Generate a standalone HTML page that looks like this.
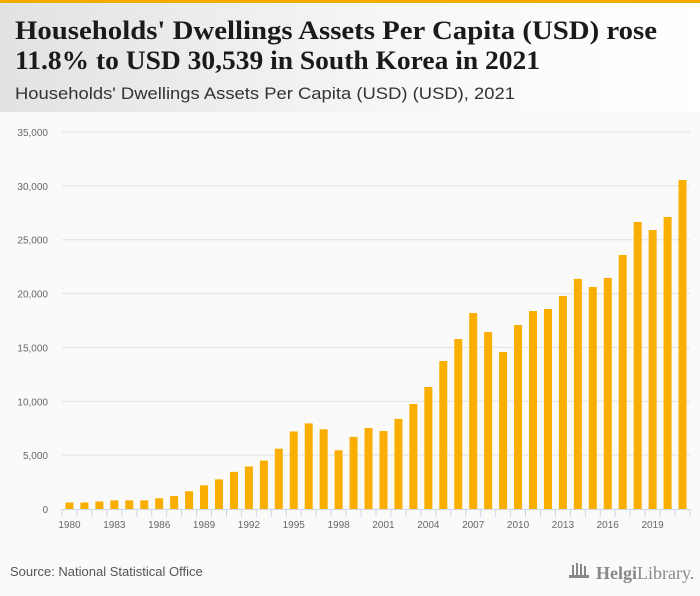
<!DOCTYPE html>
<html><head><meta charset="utf-8"><style>
body{margin:0;width:700px;height:596px;overflow:hidden;background:#fafafa;font-family:"Liberation Sans",sans-serif}
svg{display:block}
</style></head><body>
<svg id="chart" width="700" height="596" xmlns="http://www.w3.org/2000/svg">
<defs><linearGradient id="hg" x1="0" x2="1" y1="0" y2="0"><stop offset="0" stop-color="#e2e2e2"/><stop offset="0.6" stop-color="#f8f8f8"/><stop offset="1" stop-color="#ffffff"/></linearGradient></defs>
<rect x="0" y="0" width="700" height="596" fill="#fafafa"/>
<rect x="0" y="3" width="700" height="109" fill="url(#hg)"/>
<rect x="0" y="0" width="700" height="3" fill="#f5ac00"/>
<text x="15" y="39" font-family="Liberation Serif, serif" font-weight="bold" font-size="26" fill="#1a1a1a" textLength="642" lengthAdjust="spacingAndGlyphs">Households' Dwellings Assets Per Capita (USD) rose</text>
<text x="15" y="69" font-family="Liberation Serif, serif" font-weight="bold" font-size="26" fill="#1a1a1a" textLength="525" lengthAdjust="spacingAndGlyphs">11.8% to USD 30,539 in South Korea in 2021</text>
<text x="15" y="99" font-size="17" fill="#333" textLength="500" lengthAdjust="spacingAndGlyphs">Households' Dwellings Assets Per Capita (USD) (USD), 2021</text>
<g id="grid"></g><g id="bars"></g><g id="xaxis"></g>
<text x="10" y="576" font-size="13" fill="#555">Source: National Statistical Office</text>
<g>
<g fill="#888"><rect x="572" y="565" width="2" height="10"/><rect x="576" y="563" width="2" height="12"/><rect x="580" y="564" width="2" height="11"/><rect x="584" y="566" width="2" height="9"/><rect x="569" y="575" width="20" height="3"/></g>
<text x="596" y="579" font-family="Liberation Serif, serif" font-size="18" fill="#888"><tspan font-weight="bold">Helgi</tspan>Library.</text>
</g>
</svg>
<script>
const years=[1980,1981,1982,1983,1984,1985,1986,1987,1988,1989,1990,1991,1992,1993,1994,1995,1996,1997,1998,1999,2000,2001,2002,2003,2004,2005,2006,2007,2008,2009,2010,2011,2012,2013,2014,2015,2016,2017,2018,2019,2020,2021];
const values=[600,600,700,800,800,800,1000,1200,1650,2200,2750,3450,3950,4500,5600,7200,7950,7400,5450,6700,7520,7240,8360,9750,11330,13740,15780,18200,16430,14580,17080,18380,18570,19780,21360,20610,21450,23580,26650,25900,27110,30539];
const yTicks=[0,5000,10000,15000,20000,25000,30000,35000];
const yTickLabels=["0","5,000","10,000","15,000","20,000","25,000","30,000","35,000"];
const xLabelYears=[1980,1983,1986,1989,1992,1995,1998,2001,2004,2007,2010,2013,2016,2019];
const NS="http://www.w3.org/2000/svg";
const x0=62,x1=690,y0=509,yTop=132,yMax=35000;
const bw=(x1-x0)/years.length;
function yS(v){return y0-(v/yMax)*(y0-yTop);}
function xS(i){return x0+bw*i;}
function mk(tag,attrs,parent){const e=document.createElementNS(NS,tag);for(const k in attrs)e.setAttribute(k,attrs[k]);parent.appendChild(e);return e;}
const grid=document.getElementById('grid'),bars=document.getElementById('bars'),xa=document.getElementById('xaxis');
yTicks.forEach((t,i)=>{
  if(t>0){const l=mk('line',{x1:x0,x2:x1,y1:yS(t),y2:yS(t),stroke:'#e2e2e2','stroke-width':1},grid);
  
  }
  const tx=mk('text',{x:48,y:yS(t)+4,'text-anchor':'end','font-size':10,fill:'#666'},grid);
  tx.textContent=yTickLabels[i];
  
  
});
values.forEach((v,i)=>{
  const r=mk('rect',{x:xS(i)+bw/2-4,y:yS(v),width:8,height:y0-yS(v),fill:'#f9ae00'},bars);
  
  
});
const ax=mk('line',{x1:x0,x2:x1,y1:y0+0.5,y2:y0+0.5,stroke:'#ccd6eb','stroke-width':1},xa);


for(let i=0;i<=years.length;i++){
  const tk=mk('line',{x1:xS(i),x2:xS(i),y1:y0,y2:y0+8,stroke:'#ccd6eb','stroke-width':1},xa);
  
  
}
xLabelYears.forEach(yr=>{
  const i=years.indexOf(yr);
  const tx=mk('text',{x:xS(i)+bw/2,y:y0+19,'text-anchor':'middle','font-size':10,fill:'#666'},xa);
  tx.textContent=yr;
  
  
});
</script>
</body></html>
